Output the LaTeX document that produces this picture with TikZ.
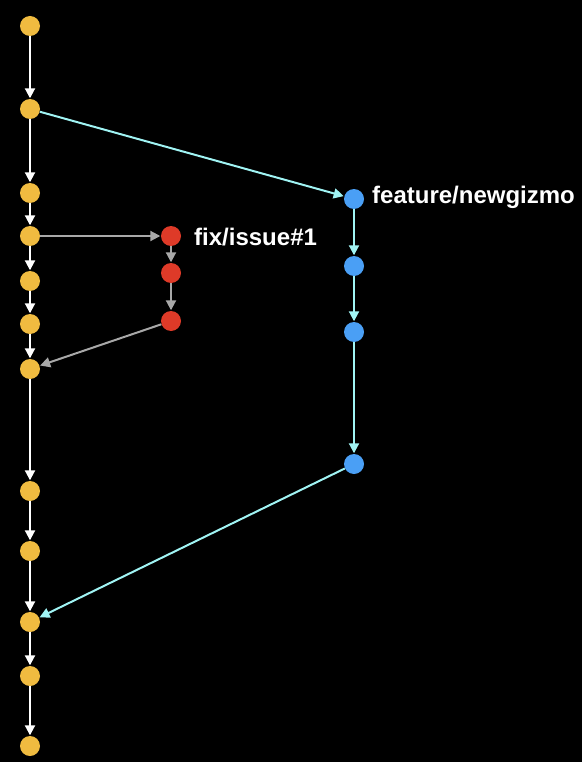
\documentclass[tikz,border=0pt]{standalone}
\usepackage{fontspec}
\setmainfont{Liberation Sans}
\usetikzlibrary{arrows.meta}
\definecolor{cyel}{HTML}{F0BB40}
\definecolor{cred}{HTML}{DE3A28}
\definecolor{cblue}{HTML}{4A9FF5}
\definecolor{ccyan}{HTML}{A0F4F4}
\definecolor{cgray}{HTML}{A8A8A8}
\begin{document}
\begin{tikzpicture}[x=1pt,y=-1pt,
  commit/.style={circle,inner sep=0pt,minimum size=20pt},
  ycommit/.style={commit,fill=cyel},
  rcommit/.style={commit,fill=cred},
  bcommit/.style={commit,fill=cblue},
  edge/.style={line width=2pt,-{Triangle[length=10pt,width=10pt]},shorten >=0.5pt},
  wedge/.style={edge,draw=white},
  gedge/.style={edge,draw=cgray},
  cedge/.style={edge,draw=ccyan},
  lbl/.style={text=white,font=\bfseries\fontsize{24}{28}\selectfont,anchor=west,inner sep=0pt}]
\fill[black] (0,0) rectangle (582,762);
\useasboundingbox (0,0) rectangle (582,762);
\node[ycommit] (y1) at (30,26) {};
\node[ycommit] (y2) at (30,109) {};
\node[ycommit] (y3) at (30,193) {};
\node[ycommit] (y4) at (30,236) {};
\node[ycommit] (y5) at (30,281) {};
\node[ycommit] (y6) at (30,324) {};
\node[ycommit] (y7) at (30,369) {};
\node[ycommit] (y8) at (30,491) {};
\node[ycommit] (y9) at (30,551) {};
\node[ycommit] (y10) at (30,622) {};
\node[ycommit] (y11) at (30,676) {};
\node[ycommit] (y12) at (30,746) {};
\node[rcommit] (r1) at (171,236) {};
\node[rcommit] (r2) at (171,273) {};
\node[rcommit] (r3) at (171,321) {};
\node[bcommit] (b1) at (354,199) {};
\node[bcommit] (b2) at (354,266) {};
\node[bcommit] (b3) at (354,332) {};
\node[bcommit] (b4) at (354,464) {};
\node[lbl] (lf) at (372,197) {feature/newgizmo};
\node[lbl] (lx) at (194,237) {fix/issue\#1};
\foreach \a/\b in {y1/y2,y2/y3,y3/y4,y4/y5,y5/y6,y6/y7,y7/y8,y8/y9,y9/y10,y10/y11,y11/y12}
  \draw[wedge] (\a) -- (\b);
\draw[gedge] (y4) -- (r1);
\draw[gedge] (r1) -- (r2);
\draw[gedge] (r2) -- (r3);
\draw[gedge] (r3) -- (y7);
\draw[cedge] (y2) -- (b1);
\draw[cedge] (b1) -- (b2);
\draw[cedge] (b2) -- (b3);
\draw[cedge] (b3) -- (b4);
\draw[cedge] (b4) -- (y10);
\end{tikzpicture}
\end{document}
